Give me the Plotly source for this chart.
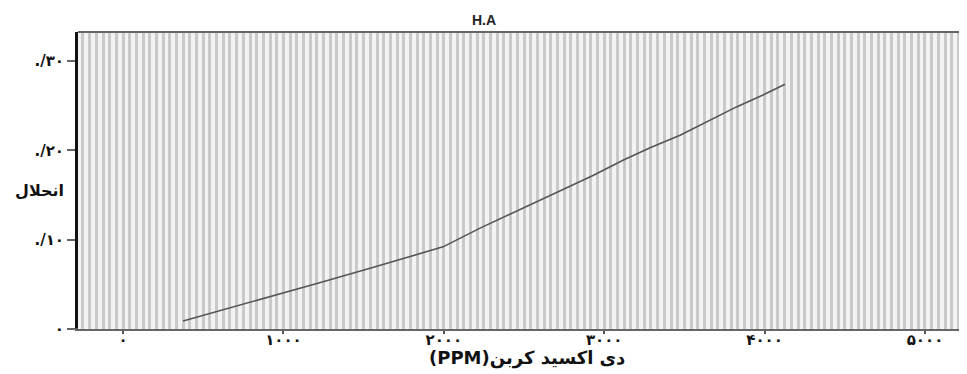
import plotly.graph_objects as go

# Data
co2_ppm = [374, 667, 960, 1247, 1540, 1808, 1995, 2226, 2394, 2581, 2768, 2930,
           3117, 3286, 3473, 3641, 3828, 3990, 4127]
dissolution = [0.009, 0.0235, 0.038, 0.053, 0.068, 0.082, 0.092, 0.113, 0.127, 0.142,
               0.158, 0.172, 0.189, 0.203, 0.217, 0.232, 0.249, 0.262, 0.274]

x_tick_vals = [0, 1000, 2000, 3000, 4000, 5000]
x_tick_text = ["۰", "۱۰۰۰", "۲۰۰۰", "۳۰۰۰", "۴۰۰۰", "۵۰۰۰"]
y_tick_vals = [0, 0.1, 0.2, 0.3]
y_tick_text = ["۰", "./۱۰", "./۲۰", "./۳۰"]

title_text = "H.A"
x_title = "\u202bدی اکسید کربن(PPM)\u202c"
y_title = "انحلال"

# The page body has an 8px margin, so the figure is drawn 8px in from the top-left.
OFF = 8
FW, FH = 967, 374 - OFF
L, T = 78 - OFF, 32 - OFF
W, H = FW - L, 329 - 32  # plot box in figure pixels
UNITS_PER_PX = 5543 / 889
X_MIN = -281
X_MAX = X_MIN + W * UNITS_PER_PX


def px_x(page_x):
    return (page_x - OFF - L) / W


def px_y(page_y):
    return (T + H - (page_y - OFF)) / H


fig = go.Figure()
fig.add_trace(go.Scatter(
    x=co2_ppm, y=dissolution, mode="lines",
    line=dict(color="#555555", width=1.6), showlegend=False, hoverinfo="skip"))

stripe = "#c9c9c9"
tick_font = dict(size=15, family="DejaVu Sans, Noto Sans, sans-serif", color="#111111", weight="bold")
fig.update_layout(
    width=FW, height=FH,
    margin=dict(l=L, r=0, t=T, b=FH - T - H, autoexpand=False),
    paper_bgcolor="white", plot_bgcolor="#f3f3f3",
    font=dict(family="DejaVu Sans, Noto Sans, sans-serif", color="#111111"),
    xaxis=dict(
        range=[X_MIN, X_MAX], tickmode="array", tickvals=x_tick_vals, ticktext=x_tick_text,
        ticks="outside", ticklen=3, tickcolor="#555555", tickwidth=1.5,
        tickfont=tick_font, automargin=False, ticklabelstandoff=-7,
        showgrid=True, gridcolor=stripe, gridwidth=3,
        minor=dict(dtick=1000 / 24, tick0=0, showgrid=True, gridcolor=stripe, gridwidth=3),
        showline=True, linecolor="#666666", linewidth=1.5, zeroline=False,
    ),
    yaxis=dict(
        range=[0, 0.3326], tickmode="array", tickvals=y_tick_vals, ticktext=y_tick_text,
        ticks="outside", ticklen=8, tickcolor="#666666", tickwidth=1.5,
        tickfont=tick_font, automargin=False,
        showgrid=False, zeroline=False,
        showline=True, linecolor="#111111", linewidth=3,
    ),
    shapes=[
        dict(type="line", xref="paper", yref="paper", x0=0, x1=1, y0=1, y1=1,
             line=dict(color="#666666", width=2)),
        dict(type="line", xref="paper", yref="paper", x0=px_x(68), x1=0, y0=0, y1=0,
             line=dict(color="#666666", width=1.5)),
    ],
    annotations=[
        dict(text=title_text, xref="paper", yref="paper", x=px_x(484), y=px_y(20),
             yanchor="middle", showarrow=False,
             font=dict(size=14, family="Liberation Sans, Arial", weight="bold", color="#222222")),
        dict(text=y_title, xref="paper", yref="paper", x=px_x(66), xanchor="right",
             y=px_y(190), yanchor="middle", showarrow=False,
             font=dict(size=16, family="DejaVu Sans, Noto Sans", weight="bold", color="#111111")),
        dict(text=x_title, xref="paper", yref="paper", x=px_x(527), xanchor="center",
             y=px_y(358), yanchor="middle", showarrow=False,
             font=dict(size=18, family="DejaVu Sans, Noto Sans", weight="bold", color="#111111")),
    ],
)

fig.write_html("out.html", post_script="document.body.style.overflow='hidden';")
